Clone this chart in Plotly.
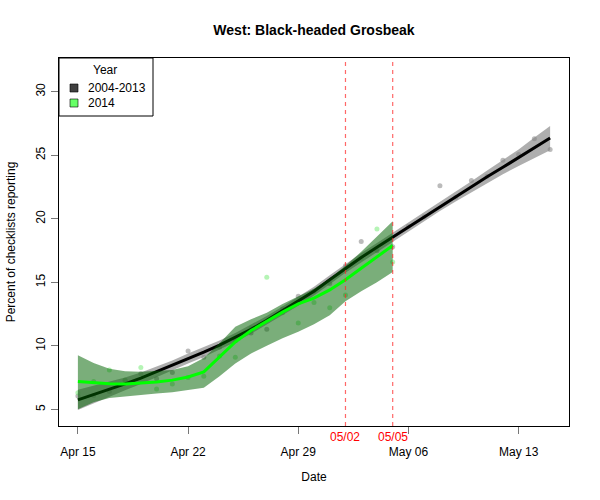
import pandas as pd
import plotly.graph_objects as go

# ---- data ----
start_date = "2014-04-15"
dates_hist = pd.date_range(start_date, periods=31)   # Apr 15 .. May 15
dates_2014 = pd.date_range(start_date, periods=21)   # Apr 15 .. May 05

hist_points = [6.05, 6.1, 6.4, 7.3, 7.8, 7.4, 7.9, 9.6, 9.1, 9.9, 10.4, 11.0, 11.3,
               12.9, 13.9, 14.3, 14.9, 16.3, 18.2, 17.5, 17.8, 19.4, 20.15, 22.6,
               21.7, 23.0, 23.35, 24.6, 25.05, 26.3, 25.45]
pts_2014 = [6.3, 7.2, 8.1, 7.3, 8.3, 6.6, 7.0, 7.5, 7.6, 9.2, 9.1, 11.4, 15.4, 12.6,
            11.8, 13.4, 13.0, 14.0, 16.9, 19.2, 16.6]

hist_fit = [5.75, 6.15, 6.6, 7.0, 7.45, 7.95, 8.45, 9.0, 9.5, 10.05, 10.65, 11.3,
            12.0, 12.75, 13.5, 14.3, 15.2, 16.1, 16.95, 17.75, 18.55, 19.35, 20.15,
            20.95, 21.75, 22.5, 23.3, 24.05, 24.8, 25.6, 26.35]
hist_upper = [6.55, 6.85, 7.2, 7.5, 7.9, 8.37, 8.85, 9.4, 9.88, 10.42, 11.0, 11.65,
              12.35, 13.1, 13.85, 14.65, 15.55, 16.45, 17.3, 18.1, 18.9, 19.7, 20.5,
              21.3, 22.15, 22.95, 23.8, 24.6, 25.45, 26.4, 27.3]
hist_lower = [4.95, 5.45, 6.0, 6.5, 7.0, 7.53, 8.05, 8.6, 9.12, 9.68, 10.3, 10.95,
              11.65, 12.4, 13.15, 13.95, 14.85, 15.75, 16.6, 17.4, 18.2, 19.0, 19.8,
              20.6, 21.35, 22.05, 22.8, 23.5, 24.15, 24.8, 25.4]

fit_2014 = [7.2, 7.1, 7.02, 7.0, 7.05, 7.15, 7.3, 7.55, 7.95, 9.1, 10.3, 11.2, 11.95,
            12.65, 13.3, 13.75, 14.4, 15.2, 16.1, 17.0, 17.9]
upper_2014 = [9.25, 8.65, 8.2, 8.0, 7.95, 8.0, 8.1, 8.4, 9.05, 10.2, 11.5, 12.1, 12.6,
              13.3, 13.9, 14.5, 15.3, 16.3, 17.4, 18.6, 19.8]
lower_2014 = [5.0, 5.55, 5.9, 6.05, 6.15, 6.25, 6.35, 6.5, 6.7, 7.6, 8.6, 9.4, 10.0,
              10.6, 11.1, 11.7, 12.4, 13.5, 14.3, 15.0, 15.8]

marker_dates = ["2014-05-02", "2014-05-05"]
marker_labels = ["05/02", "05/05"]
tick_dates = ["2014-04-15", "2014-04-22", "2014-04-29", "2014-05-06", "2014-05-13"]
tick_text = ["Apr 15", "Apr 22", "Apr 29", "May 06", "May 13"]
y_ticks = [5, 10, 15, 20, 25, 30]
legend_labels = ["2004-2013", "2014"]
legend_colors = ["#404040", "#66ff66"]

FONT = "Liberation Sans, Arial, Helvetica, sans-serif"
PW, PH = 510, 368  # plot area size in px

fig = go.Figure()

# points (behind bands)
fig.add_trace(go.Scatter(x=dates_hist, y=hist_points, mode="markers",
                         marker=dict(size=5, color="rgba(120,120,120,0.5)"),
                         showlegend=False, hoverinfo="skip"))
fig.add_trace(go.Scatter(x=dates_2014, y=pts_2014, mode="markers",
                         marker=dict(size=5, color="rgba(120,235,120,0.55)"),
                         showlegend=False, hoverinfo="skip"))

# historical band + fit
fig.add_trace(go.Scatter(x=list(dates_hist) + list(dates_hist[::-1]),
                         y=hist_upper + hist_lower[::-1], fill="toself",
                         fillcolor="rgba(130,130,130,0.65)", line=dict(width=0),
                         mode="lines", showlegend=False, hoverinfo="skip"))
fig.add_trace(go.Scatter(x=dates_hist, y=hist_fit, mode="lines",
                         line=dict(color="black", width=3), showlegend=False))

# 2014 band + fit
fig.add_trace(go.Scatter(x=list(dates_2014) + list(dates_2014[::-1]),
                         y=upper_2014 + lower_2014[::-1], fill="toself",
                         fillcolor="rgba(0,100,0,0.52)", line=dict(width=0),
                         mode="lines", showlegend=False, hoverinfo="skip"))
fig.add_trace(go.Scatter(x=dates_2014, y=fit_2014, mode="lines",
                         line=dict(color="#00ff00", width=3), showlegend=False))

# vertical dashed lines + labels
for d, lab in zip(marker_dates, marker_labels):
    fig.add_shape(type="line", xref="x", yref="paper", x0=d, x1=d, y0=0, y1=1,
                  line=dict(color="rgba(255,40,40,0.7)", width=1.2, dash="4px,4px"))
    fig.add_annotation(x=d, xref="x", y=-0.005, yref="paper", text=lab, showarrow=False,
                       yanchor="top", font=dict(color="red", size=12, family=FONT))

# legend (manual, R style)
fig.add_shape(type="rect", xref="paper", yref="paper", x0=0, x1=94/PW, y0=1 - 58/PH,
              y1=1, line=dict(color="black", width=1), fillcolor="white", layer="above")
fig.add_annotation(xref="paper", yref="paper", x=46/PW, y=1 - 12/PH, text="Year",
                   xanchor="center", yanchor="middle", showarrow=False,
                   font=dict(size=12, family=FONT, color="black"))
for i, (lab, col) in enumerate(zip(legend_labels, legend_colors)):
    yc = 1 - (30 + 15 * i) / PH
    fig.add_shape(type="rect", xref="paper", yref="paper", x0=11/PW, x1=19/PW,
                  y0=yc - 4/PH, y1=yc + 4/PH, fillcolor=col,
                  line=dict(color="black", width=0.6), layer="above")
    fig.add_annotation(xref="paper", yref="paper", x=27/PW, y=yc, text=lab,
                       xanchor="left", yanchor="middle", showarrow=False,
                       font=dict(size=12, family=FONT, color="black"))

fig.update_layout(
    width=600, height=500,
    margin=dict(l=59, r=31, t=58, b=74),
    plot_bgcolor="white", paper_bgcolor="white",
    font=dict(family=FONT, size=12, color="black"),
    title=dict(text="<b>West: Black-headed Grosbeak</b>", x=314/600, xanchor="center",
               y=1 - 30/500, yanchor="middle", font=dict(size=14, family=FONT)),
    showlegend=False,
)
fig.update_xaxes(range=["2014-04-13 19:12", "2014-05-16 04:48"], tickvals=tick_dates,
                 ticktext=tick_text, ticks="outside", ticklen=7, tickcolor="#777",
                 showline=True, linecolor="black", mirror=True, showgrid=False,
                 zeroline=False, ticklabelstandoff=8, automargin=False,
                 title=dict(text="Date", standoff=14, font=dict(size=12)))
fig.update_yaxes(range=[3.69, 32.65], tickvals=y_ticks, tickangle=-90, ticks="outside",
                 ticklen=7, tickcolor="#777", showline=True, linecolor="black",
                 mirror=True, showgrid=False, zeroline=False, ticklabelstandoff=1,
                 automargin=False,
                 title=dict(text="Percent of checklists reporting", standoff=16,
                            font=dict(size=12)))

fig.write_html("out.html")
